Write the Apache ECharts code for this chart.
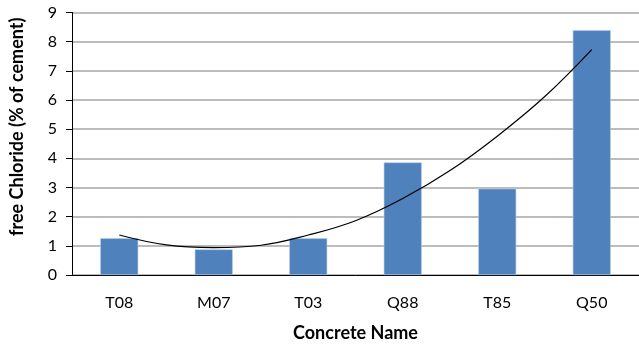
<!DOCTYPE html>
<html><head><meta charset="utf-8">
<script src="https://cdn.jsdelivr.net/npm/echarts@6/dist/echarts.min.js"></script>
<style>html,body{margin:0;padding:0;background:#fff}#c{width:639px;height:348px}</style>
</head><body><div id="c"></div>
<script>
const categories = ['T08','M07','T03','Q88','T85','Q50'];
const chlorideValues = [1.26, 0.88, 1.26, 3.86, 2.96, 8.39];
// trend line at category centres and half-way points
const trendPositions = [0, 0.5, 1, 1.5, 2, 2.5, 3, 3.5, 4, 4.5, 5];
const trendValues = [1.37, 1.03, 0.94, 1.02, 1.37, 1.86, 2.62, 3.58, 4.76, 6.11, 7.73];
const yTicks = [0,1,2,3,4,5,6,7,8,9];

const chart = echarts.init(document.getElementById('c'));
const font = 'Lato, "Open Sans", sans-serif';
chart.setOption({
  animation:false,
  grid:{left:72, top:12.5, width:570, height:262.5},
  xAxis:[{
    type:'category', data:categories,
    name:'Concrete Name', nameLocation:'middle', nameGap:49,
    nameTextStyle:{fontFamily:font, fontWeight:'bold', fontSize:18, color:'#000'},
    axisLine:{lineStyle:{color:'#000', width:1}},
    axisTick:{length:5, lineStyle:{color:'#000'}},
    axisLabel:{fontFamily:font, fontSize:16, color:'#000', margin:20}
  },{
    type:'value', min:-0.5, max:5.5, show:false
  }],
  yAxis:{
    type:'value', min:yTicks[0], max:yTicks[yTicks.length-1], interval:1,
    name:'free Chloride (% of cement)', nameLocation:'middle', nameGap:46,
    nameTextStyle:{fontFamily:font, fontWeight:'bold', fontSize:18, color:'#000', padding:[0,0,0,34]},
    axisLine:{show:true, onZero:false, lineStyle:{color:'#000', width:1}},
    axisTick:{show:true, length:6, lineStyle:{color:'#000'}},
    axisLabel:{fontFamily:font, fontSize:16, color:'#000', margin:15},
    splitLine:{lineStyle:{color:'#a6a6a6', width:1.5}}
  },
  series:[
    {type:'bar', data:chlorideValues, barWidth:38,
     itemStyle:{color:'#4F81BD', borderColor:'#b9cde5', borderWidth:0.6}},
    {type:'line', xAxisIndex:1, data:trendPositions.map((p,i)=>[p, trendValues[i]]),
     smooth:0.4, symbol:'none', lineStyle:{color:'#000', width:1.2}, z:5}
  ]
});
</script></body></html>
